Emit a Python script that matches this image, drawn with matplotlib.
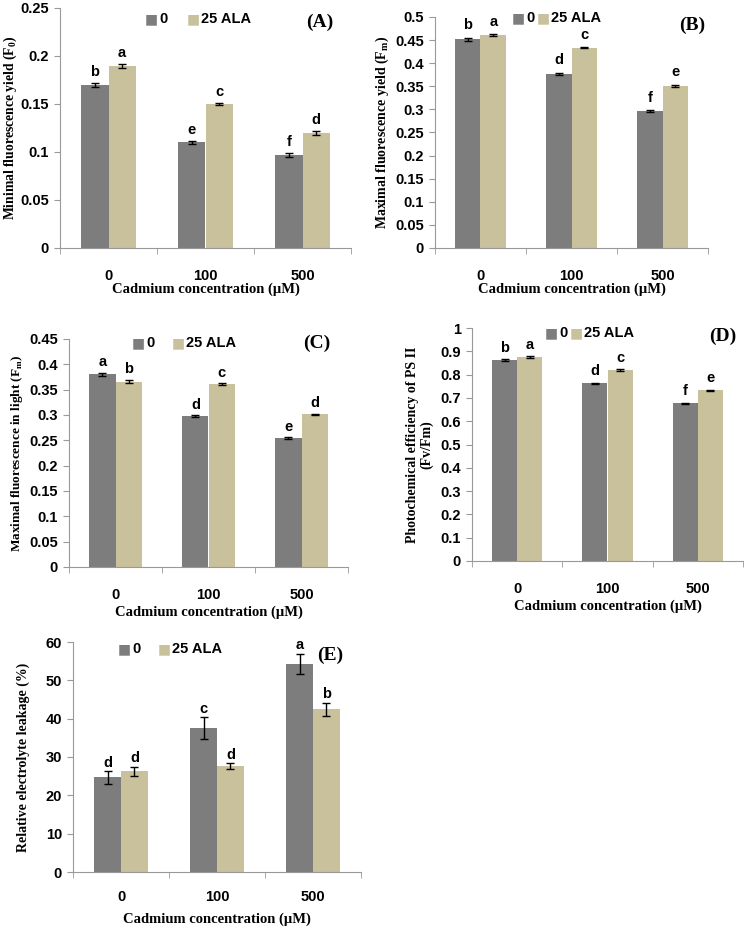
import numpy as np
import matplotlib
matplotlib.use('Agg')
import matplotlib.pyplot as plt

plt.rcParams['font.family'] = ['Liberation Sans', 'DejaVu Sans']
plt.rcParams['mathtext.fontset'] = 'custom'
plt.rcParams['mathtext.rm'] = 'Liberation Serif:bold'
plt.rcParams['mathtext.bf'] = 'Liberation Serif:bold'

cats = ['0', '100', '500']
series = ['0', '25 ALA']

# panel data (control, +ALA), errors and letters
f0 = [[0.170, 0.110, 0.097], [0.190, 0.150, 0.120]]
f0_err = [[0.002, 0.0015, 0.002], [0.002, 0.0015, 0.002]]
f0_let = [['b', 'e', 'f'], ['a', 'c', 'd']]

fm = [[0.452, 0.377, 0.296], [0.461, 0.433, 0.351]]
fm_err = [[0.003, 0.002, 0.002], [0.002, 0.001, 0.002]]
fm_let = [['b', 'd', 'f'], ['a', 'c', 'e']]

fml = [[0.380, 0.298, 0.254], [0.366, 0.361, 0.301]]
fml_err = [[0.003, 0.0015, 0.002], [0.003, 0.0015, 0.0015]]
fml_let = [['a', 'd', 'e'], ['b', 'c', 'd']]

fvfm = [[0.862, 0.763, 0.676], [0.874, 0.820, 0.733]]
fvfm_err = [[0.004, 0.003, 0.004], [0.004, 0.003, 0.002]]
fvfm_let = [['b', 'd', 'f'], ['a', 'c', 'e']]

el = [[24.7, 37.5, 54.3], [26.3, 27.6, 42.4]]
el_err = [[1.7, 2.9, 2.7], [1.2, 0.8, 1.8]]
el_let = [['d', 'c', 'a'], ['d', 'd', 'b']]

colors = ['#7d7d7d', '#c9c19b']
W, H = 750, 931

fig = plt.figure(figsize=(7.5, 9.31), dpi=100)


def px_axes(x0, x1, ytop, ybot):
    return fig.add_axes([x0 / W, 1 - ybot / H, (x1 - x0) / W, (ybot - ytop) / H])


def panel(box, vals, errs, lets, ymax, step, ylabel, tag, tagpos, legpos, legsep,
          let_off, fmt, ylpad, xlpad, ylsize=10, tpad=15):
    ax = px_axes(*box)
    x = np.arange(3) + 0.5
    bw = 0.28
    for i in range(2):
        xi = x + (i - 0.5) * bw
        ax.bar(xi, vals[i], bw, color=colors[i], edgecolor='none', zorder=2)
        ax.errorbar(xi, vals[i], yerr=errs[i], fmt='none', ecolor='black',
                    elinewidth=1, capsize=3, capthick=1, zorder=3)
        for xx, v, e, l in zip(xi, vals[i], errs[i], lets[i]):
            ax.text(xx, v + e + let_off, l, ha='center', va='bottom',
                    fontsize=10.5, fontweight='bold')
    ax.set_xlim(0, 3)
    ax.set_ylim(0, ymax)
    ticks = np.arange(0, ymax + step / 2, step)
    ax.set_yticks(ticks)
    ax.set_yticklabels([fmt(t) for t in ticks], fontsize=10.5, fontweight='bold')
    ax.set_xticks(x)
    ax.set_xticklabels(cats, fontsize=10.5, fontweight='bold')
    ax.set_xticks([0, 1, 2, 3], minor=True)
    ax.tick_params(axis='x', which='major', length=0, pad=tpad)
    ax.tick_params(axis='x', which='minor', length=4, color='#999999')
    ax.tick_params(axis='y', length=4, color='#999999', pad=4)
    for s in ['top', 'right']:
        ax.spines[s].set_visible(False)
    for s in ['left', 'bottom']:
        ax.spines[s].set_color('#999999')
    ax.set_xlabel('Cadmium concentration (µM)', fontsize=10.5, fontweight='bold',
                  family='Liberation Serif', labelpad=xlpad)
    ax.set_ylabel(ylabel, fontsize=ylsize, fontweight='bold', family='Liberation Serif',
                  labelpad=ylpad, linespacing=1.1)
    fig.text(tagpos[0] / W, 1 - tagpos[1] / H, tag, ha='center', va='center',
             fontsize=14, fontweight='bold', family='Liberation Serif')
    for i in range(2):
        lx = legpos[0] + i * legsep
        fig.text(lx / W, 1 - legpos[1] / H, '■', ha='center', va='center',
                 fontsize=10, color=colors[i], family='DejaVu Sans')
        fig.text((lx + 8) / W, 1 - legpos[1] / H, series[i], ha='left', va='center',
                 fontsize=10.5, fontweight='bold')
    return ax


def dec(t):
    s = ('%.2f' % t).rstrip('0').rstrip('.')
    return s


panel((60, 351, 8, 248), f0, f0_err, f0_let, 0.25, 0.05,
      'Minimal fluorescence yield (F$_\\mathbf{0}$)', '(A)', (320, 22), (151, 19), 42,
      0.004, dec, 1, 0, 9.8)
panel((435, 708, 17, 248), fm, fm_err, fm_let, 0.5, 0.05,
      'Maximal fluorescence yield (F$_\\mathbf{m}$)', '(B)', (692, 25), (518, 18), 25,
      0.012, dec, 3, 0)
panel((69, 348, 339, 567), fml, fml_err, fml_let, 0.45, 0.05,
      'Maximal fluorescence in light (F$_\\mathbf{m}$)', '(C)', (317, 343), (138, 343), 40,
      0.007, dec, 3, 3, 9.5)
panel((472, 743, 328, 561), fvfm, fvfm_err, fvfm_let, 1.0, 0.1,
      'Photochemical efficiency of PS II\n(Fv/Fm)', '(D)', (723, 336), (551, 333), 25,
      0.02, dec, 5, 3)
panel((73, 361, 642, 872), el, el_err, el_let, 60, 10,
      'Relative electrolyte leakage (%)', '(E)', (330, 655), (124, 649), 40,
      0.3, lambda t: '%d' % t, 11, 6, 10, 13)

fig.savefig('out.png', dpi=100)
